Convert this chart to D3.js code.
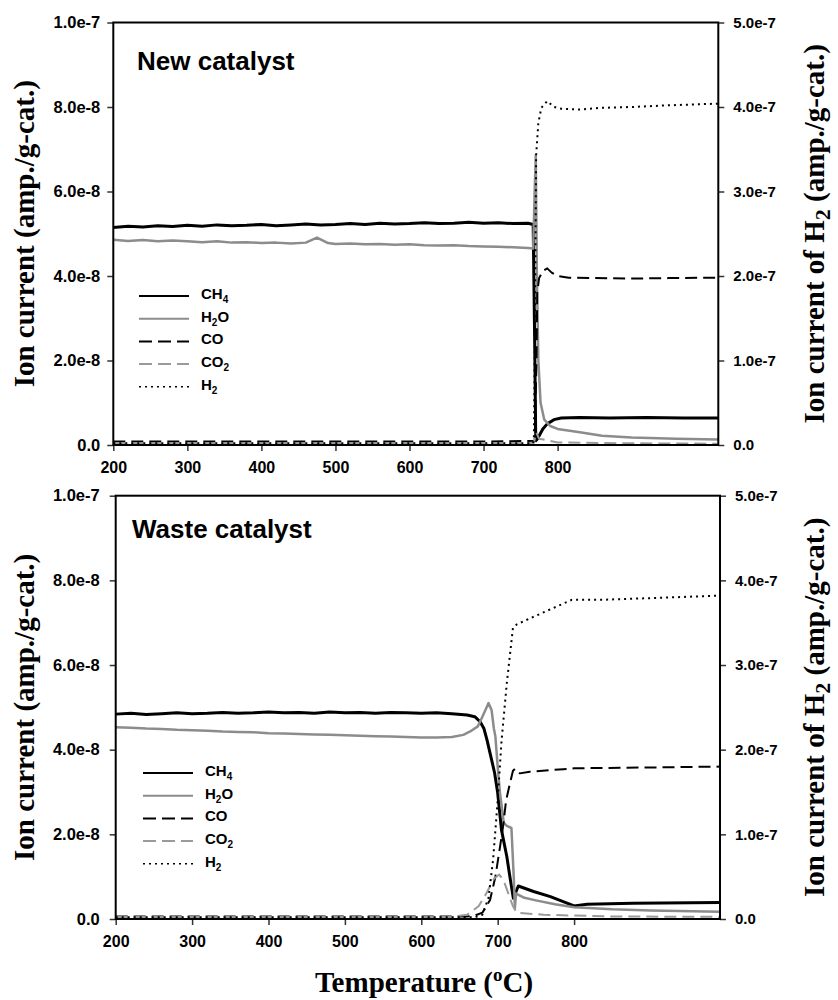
<!DOCTYPE html>
<html>
<head>
<meta charset="utf-8">
<script src="https://cdn.jsdelivr.net/npm/d3@7"></script>
<style>
  body { margin: 0; background: #fff; }
  .tick text { font-family: "Liberation Sans", Arial, sans-serif; font-weight: bold; fill: #000; }
</style>
</head>
<body>
<script>
// tick labels (left in units of 1e-8, right in units of 1e-7)
const xTicks = [200, 300, 400, 500, 600, 700, 800];
const leftTicks = [0, 2, 4, 6, 8, 10];
const rightTicks = [0, 1, 2, 3, 4, 5];

const seriesNames = ["CH_4", "H_2O", "CO", "CO_2", "H_2"];

// New catalyst  [temperature, value]
const newCH4 = [[200,5.15],[220,5.18],[240,5.16],[260,5.19],[280,5.17],[300,5.20],[320,5.18],[340,5.21],[360,5.19],[380,5.20],
  [400,5.22],[420,5.19],[440,5.21],[460,5.23],[480,5.21],[500,5.22],[520,5.24],[540,5.22],[560,5.25],[580,5.23],[600,5.24],
  [620,5.26],[640,5.24],[660,5.25],[680,5.27],[700,5.25],[720,5.26],[740,5.24],[760,5.25],[767,5.22],[769,2.5],[770.5,0.1],
  [773,0.15],[776,0.25],[780,0.38],[786,0.5],[795,0.6],[805,0.64],[830,0.65],[870,0.64],[920,0.65],[970,0.64],[1017,0.64]];
const newH2O = [[200,4.86],[220,4.83],[240,4.85],[260,4.82],[280,4.84],[300,4.82],[320,4.80],[340,4.82],[360,4.79],[380,4.80],
  [400,4.78],[420,4.79],[440,4.77],[460,4.79],[475,4.91],[490,4.78],[500,4.76],[520,4.77],[540,4.75],[560,4.76],[580,4.74],
  [600,4.75],[620,4.73],[640,4.72],[660,4.73],[680,4.71],[700,4.70],[720,4.69],[740,4.68],[760,4.66],[767,4.65],[769,6.0],
  [770.5,6.86],[772,4.0],[774,2.0],[777,1.0],[782,0.6],[790,0.45],[800,0.38],[830,0.3],[860,0.22],[900,0.18],[960,0.15],[1017,0.13]];
const newCO = [[200,0.08],[300,0.08],[400,0.08],[500,0.08],[600,0.08],[700,0.08],[769,0.1],[771.5,2.0],[772.5,3.6],[775,3.95],
  [780,4.12],[786,4.18],[792,4.08],[800,4.0],[815,3.96],[850,3.95],[900,3.94],[950,3.95],[1017,3.96]];
const newCO2 = [[200,0.04],[400,0.04],[600,0.04],[768,0.05],[771,0.3],[775,0.15],[800,0.06],[900,0.04],[1017,0.03]];
const newH2 = [[200,0.02],[400,0.02],[600,0.02],[767,0.02],[768,0.1],[769,1.0],[770,2.2],[771,3.43],[774,3.81],[778,3.99],
  [786,4.07],[795,4.0],[805,3.98],[830,3.97],[858,3.99],[900,4.0],[950,4.02],[1017,4.04]];

// Waste catalyst  [temperature, value]
const wasteCH4 = [[200,4.84],[220,4.86],[240,4.83],[260,4.85],[280,4.87],[300,4.85],[320,4.86],[340,4.88],[360,4.86],[380,4.87],
  [400,4.89],[420,4.87],[440,4.88],[460,4.86],[480,4.89],[500,4.87],[520,4.88],[540,4.86],[560,4.88],[580,4.87],[600,4.86],
  [620,4.87],[640,4.85],[660,4.82],[670,4.78],[677,4.66],[682,4.5],[686,4.23],[690,3.92],[696,3.45],[700,2.98],[705,2.1],
  [712,1.47],[716,1.0],[720.5,0.49],[727,0.78],[747,0.65],[769,0.53],[800,0.31],[817,0.35],[877,0.37],[991,0.39]];
const wasteH2O = [[200,4.53],[220,4.52],[240,4.50],[260,4.49],[280,4.47],[300,4.46],[320,4.45],[340,4.43],[360,4.42],[380,4.41],
  [400,4.39],[420,4.38],[440,4.37],[460,4.36],[480,4.35],[500,4.34],[520,4.33],[540,4.32],[560,4.31],[580,4.30],[600,4.29],
  [620,4.29],[640,4.30],[655,4.35],[664,4.43],[674,4.55],[680,4.78],[686,5.02],[688,5.1],[692,4.94],[695,4.5],[697,4.31],
  [700,3.6],[703,2.98],[708,2.27],[712,2.2],[718,2.15],[721,1.0],[722.5,0.25],[724,0.6],[735,0.5],[750,0.44],[775,0.35],
  [800,0.28],[850,0.23],[900,0.2],[991,0.17]];
const wasteCO = [[200,0.06],[300,0.06],[400,0.06],[500,0.06],[600,0.06],[660,0.06],[670,0.08],[680,0.15],[690,0.45],[697,1.0],
  [703,1.7],[707,2.18],[711,2.8],[716,3.2],[720,3.5],[723,3.55],[729,3.44],[742,3.48],[786,3.54],[800,3.56],[900,3.58],[991,3.6]];
const wasteCO2 = [[200,0.05],[400,0.05],[640,0.05],[660,0.1],[675,0.3],[685,0.6],[695,0.95],[702,1.05],[708,0.9],[714,0.6],
  [720,0.3],[725,0.15],[760,0.1],[850,0.06],[991,0.05]];
const wasteH2 = [[200,0.02],[400,0.02],[600,0.02],[670,0.02],[680,0.05],[688,0.25],[694,0.7],[700,1.4],[705,2.1],[712,2.79],
  [720,3.44],[725,3.48],[747,3.57],[777,3.69],[797,3.77],[834,3.77],[900,3.79],[991,3.82]];

const styles = [
  { color: "#000", width: 3, dash: null, axis: "left" },
  { color: "#8c8c8c", width: 2.5, dash: null, axis: "left" },
  { color: "#000", width: 2, dash: "12,6", axis: "left" },
  { color: "#9a9a9a", width: 2, dash: "12,6", axis: "left" },
  { color: "#000", width: 2, dash: "2,4", axis: "right" }
];

const panels = [
  { title: "New catalyst", left: 113.3, right: 718.3, top: 22.5, bottom: 445, tMax: 1017,
    padL: 7, titleX: 137, titleY: 70, legX: 139, legY: 296,
    data: [newCH4, newH2O, newCO, newCO2, newH2] },
  { title: "Waste catalyst", left: 115.7, right: 720, top: 495.7, bottom: 919, tMax: 991,
    padL: 10, titleX: 132, titleY: 538, legX: 143, legY: 773,
    data: [wasteCH4, wasteH2O, wasteCO, wasteCO2, wasteH2] }
];

const svg = d3.select("body").append("svg")
  .attr("width", 838)
  .attr("height", 1000);

const sansFont = '"Liberation Sans", Arial, sans-serif';
const serifFont = '"Liberation Serif", "Times New Roman", serif';

const styleAxis = (g, size) => {
  g.select(".domain").remove();
  g.selectAll(".tick line").attr("stroke", "#333").attr("stroke-width", 1.5);
  g.selectAll(".tick text").style("font-size", size + "px");
};

// adds "X_2" style label with subscripts as tspans
const addSubText = (sel, label, subSize, shift) => {
  const parts = label.split(/(_.)/).filter(s => s.length);
  parts.forEach((s, i) => {
    const prevSub = i > 0 && parts[i - 1][0] === "_";
    if (s[0] === "_") {
      sel.append("tspan").text(s[1]).style("font-size", subSize + "px").attr("dy", shift);
    } else {
      sel.append("tspan").text(s).attr("dy", prevSub ? -shift : null);
    }
  });
};

panels.forEach((p, pi) => {
  const x = d3.scaleLinear().domain([200, p.tMax]).range([p.left, p.right]);
  const yL = d3.scaleLinear().domain([0, 10]).range([p.bottom, p.top]);
  const yR = d3.scaleLinear().domain([0, 5]).range([p.bottom, p.top]);

  svg.append("clipPath").attr("id", "clip" + pi)
    .append("rect")
    .attr("x", p.left).attr("y", p.top)
    .attr("width", p.right - p.left).attr("height", p.bottom - p.top);

  // data lines
  const plot = svg.append("g").attr("clip-path", `url(#clip${pi})`);
  p.data.forEach((d, i) => {
    const st = styles[i];
    const yy = st.axis === "left" ? yL : yR;
    const line = d3.line()
      .x(v => x(v[0]))
      .y(v => yy(v[1]));
    plot.append("path")
      .attr("d", line(d))
      .attr("fill", "none")
      .attr("stroke", st.color)
      .attr("stroke-width", st.width)
      .attr("stroke-dasharray", st.dash)
      .attr("stroke-linejoin", "round");
  });

  // axes
  svg.append("g")
    .attr("transform", `translate(0,${p.bottom})`)
    .call(d3.axisBottom(x).tickValues(xTicks).tickSize(6).tickSizeOuter(0).tickPadding(11))
    .call(g => styleAxis(g, 16));

  svg.append("g")
    .attr("transform", `translate(${p.left},0)`)
    .call(d3.axisLeft(yL).tickValues(leftTicks).tickSize(6).tickSizeOuter(0).tickPadding(p.padL)
      .tickFormat(v => v === 0 ? "0.0" : (v * 1e-8).toExponential(1)))
    .call(g => styleAxis(g, 16.5));

  svg.append("g")
    .attr("transform", `translate(${p.right},0)`)
    .call(d3.axisRight(yR).tickValues(rightTicks).tickSize(6).tickSizeOuter(0).tickPadding(9)
      .tickFormat(v => v === 0 ? "0.0" : (v * 1e-7).toExponential(1)))
    .call(g => styleAxis(g, 15));

  // frame
  svg.append("rect")
    .attr("x", p.left).attr("y", p.top)
    .attr("width", p.right - p.left).attr("height", p.bottom - p.top)
    .attr("fill", "none")
    .attr("stroke", "#000")
    .attr("stroke-width", 2);

  // panel title
  svg.append("text")
    .attr("x", p.titleX).attr("y", p.titleY)
    .style("font-family", sansFont)
    .style("font-weight", "bold")
    .style("font-size", "26px")
    .text(p.title);

  // legend
  seriesNames.forEach((name, i) => {
    const st = styles[i];
    const ly = p.legY + i * 22.7;
    svg.append("line")
      .attr("x1", p.legX).attr("x2", p.legX + 50)
      .attr("y1", ly).attr("y2", ly)
      .attr("stroke", st.color)
      .attr("stroke-width", st.dash === "2,4" ? 1.5 : 2)
      .attr("stroke-dasharray", st.dash === "12,6" ? "13,6" : st.dash);
    const t = svg.append("text")
      .attr("x", p.legX + 62).attr("y", ly + 3)
      .style("font-family", sansFont)
      .style("font-weight", "bold")
      .style("font-size", "15px");
    addSubText(t, name, 10, 4);
  });

  // y titles
  const cy = (p.top + p.bottom) / 2;
  svg.append("text")
    .attr("transform", `translate(33.5,${cy}) rotate(-90)`)
    .attr("text-anchor", "middle")
    .style("font-family", serifFont)
    .style("font-weight", "bold")
    .style("font-size", "29px")
    .text("Ion current (amp./g-cat.)");

  const rt = svg.append("text")
    .attr("transform", `translate(823.5,${cy}) rotate(-90)`)
    .attr("text-anchor", "middle")
    .style("font-family", serifFont)
    .style("font-weight", "bold")
    .style("font-size", "29px");
  addSubText(rt, "Ion current of H_2 (amp./g-cat.)", 22, 6);
});

// x title
const xt = svg.append("text")
  .attr("x", 424).attr("y", 992)
  .attr("text-anchor", "middle")
  .style("font-family", serifFont)
  .style("font-weight", "bold")
  .style("font-size", "29px");
xt.append("tspan").text("Temperature (");
xt.append("tspan").text("o").style("font-size", "19px").attr("dy", -11);
xt.append("tspan").text("C)").attr("dy", 11);
</script>
</body>
</html>
